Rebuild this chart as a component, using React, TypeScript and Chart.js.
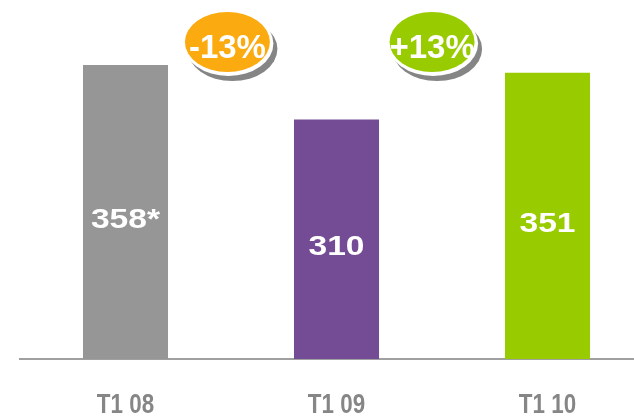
import React, { useEffect, useRef } from "react";
import { Chart, registerables } from "chart.js";

Chart.register(...registerables);

const categories = ["T1 08", "T1 09", "T1 10"];
const values = [358, 310, 351];
const valueLabels = ["358*", "310", "351"];
const barColors = ["#969696", "#744C96", "#99CC00"];

const bubbleLabels = ["-13%", "+13%"];
const bubbleColors = ["#FBAA10", "#99CC00"];
const bubbleIndex = [0.483, 1.453];
const bubbleValue = [378, 378];

const FONT = "'Liberation Sans', Arial, sans-serif";

const labelPlugin = {
  id: "labels",
  afterDatasetsDraw(chart: any) {
    const ctx = chart.ctx;
    const area = chart.chartArea;
    const xs = chart.scales.x;
    const meta = chart.getDatasetMeta(0);
    meta.data.forEach((bar: any, i: number) => {
      const x = bar.x;
      const y = (bar.y + area.bottom) / 2 + 16;
      ctx.save();
      ctx.translate(x, y);
      ctx.scale(1.2, 1);
      ctx.font = "bold 28px " + FONT;
      ctx.fillStyle = "#FFFFFF";
      ctx.textAlign = "center";
      ctx.textBaseline = "alphabetic";
      ctx.fillText(valueLabels[i], 0, 0);
      ctx.restore();
    });
    categories.forEach((c, i) => {
      const x = xs.getPixelForValue(i);
      ctx.save();
      ctx.translate(x, area.bottom + 54);
      ctx.scale(0.8, 1);
      ctx.font = "bold 28px " + FONT;
      ctx.fillStyle = "#868686";
      ctx.textAlign = "center";
      ctx.textBaseline = "alphabetic";
      ctx.fillText(c, 0, 0);
      ctx.restore();
    });
  },
};

const bubblePlugin = {
  id: "bubbles",
  afterDraw(chart: any) {
    const ctx = chart.ctx;
    const xs = chart.scales.x;
    const ys = chart.scales.y;
    bubbleLabels.forEach((label, i) => {
      const cx = xs.getPixelForValue(bubbleIndex[i]);
      const cy = ys.getPixelForValue(bubbleValue[i]);
      const rx = 42.5;
      const ry = 30;
      ctx.save();
      ctx.fillStyle = "#858585";
      ctx.beginPath();
      ctx.ellipse(cx + 5, cy + 7, rx + 2.5, ry + 2, 0, 0, Math.PI * 2);
      ctx.fill();
      ctx.fillStyle = "#FFFFFF";
      ctx.beginPath();
      ctx.ellipse(cx + 1, cy + 1.5, rx + 2.5, ry + 2.5, 0, 0, Math.PI * 2);
      ctx.fill();
      ctx.fillStyle = bubbleColors[i];
      ctx.beginPath();
      ctx.ellipse(cx, cy, rx, ry, 0, 0, Math.PI * 2);
      ctx.fill();
      ctx.font = "bold 33px " + FONT;
      ctx.fillStyle = "#FFFFFF";
      ctx.textAlign = "center";
      ctx.textBaseline = "alphabetic";
      ctx.fillText(label, cx, cy + 16);
      ctx.restore();
    });
  },
};

export default function App() {
  const ref = useRef<HTMLCanvasElement | null>(null);
  useEffect(() => {
    if (!ref.current) return;
    const chart = new Chart(ref.current, {
      type: "bar",
      data: {
        labels: categories,
        datasets: [
          {
            data: values,
            backgroundColor: barColors,
            borderWidth: 0,
            categoryPercentage: 1,
            barPercentage: 0.403,
          },
        ],
      },
      options: {
        animation: false,
        responsive: false,
        maintainAspectRatio: false,
        layout: { padding: { top: 17, left: 20, right: 7, bottom: 57 } },
        plugins: {
          legend: { display: false },
          tooltip: { enabled: false },
          title: { display: false },
        },
        scales: {
          x: {
            grid: { display: false, drawTicks: false },
            border: { display: true, color: "#A0A0A0", width: 2 },
            ticks: { display: false },
          },
          y: {
            display: false,
            min: 100,
            max: 400,
          },
        },
      },
      plugins: [labelPlugin, bubblePlugin],
    });
    return () => chart.destroy();
  }, []);
  return (
    <div
      style={{
        position: "fixed",
        left: 0,
        top: 0,
        width: 634,
        height: 416,
        overflow: "hidden",
        background: "#FFFFFF",
      }}
    >
      <canvas ref={ref} width={660} height={416} style={{ display: "block" }} />
    </div>
  );
}
